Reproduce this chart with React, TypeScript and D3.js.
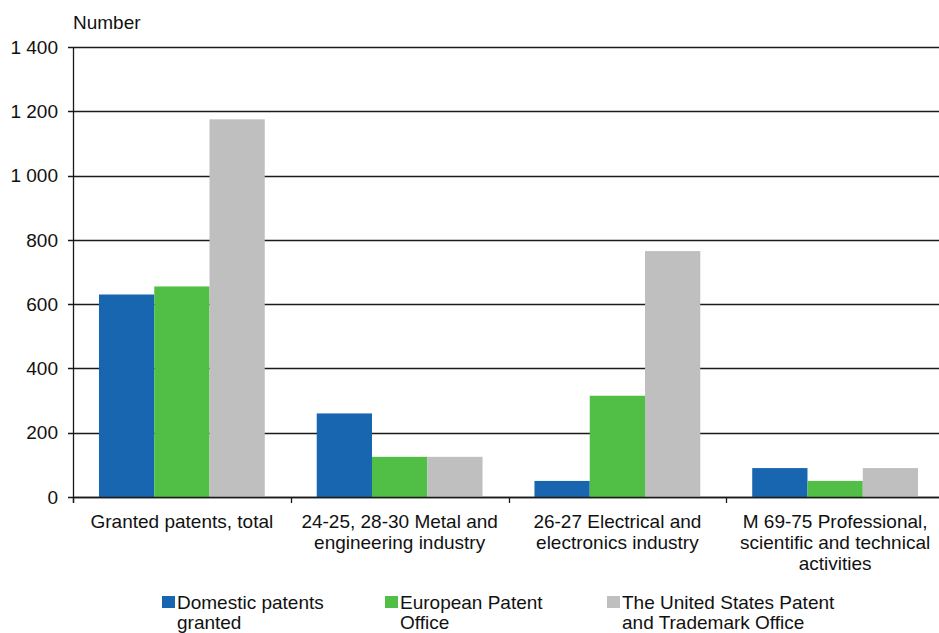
import React from "react";
import * as d3 from "d3";

const categories: string[][] = [
  ["Granted patents, total"],
  ["24-25, 28-30 Metal and", "engineering industry"],
  ["26-27 Electrical and", "electronics industry"],
  ["M 69-75 Professional,", "scientific and technical", "activities"],
];
const seriesNames: string[][] = [
  ["Domestic patents", "granted"],
  ["European Patent", "Office"],
  ["The United States Patent", "and Trademark Office"],
];
const seriesColors = ["#1866b0", "#51be45", "#bfbfbf"];
const domestic = [630, 260, 50, 90];
const european = [655, 125, 315, 50];
const unitedStates = [1175, 125, 765, 90];
const yTicks = [0, 200, 400, 600, 800, 1000, 1200, 1400];
const yTickLabels = ["0", "200", "400", "600", "800", "1 000", "1 200", "1 400"];
const yTitle = "Number";

const W = 939;
const H = 633;
const FONT = "'Liberation Sans', Arial, sans-serif";

export default function App() {
  const series = [domestic, european, unitedStates];
  const x0 = d3
    .scaleBand<number>()
    .domain(categories.map((_, i) => i))
    .range([73, 944])
    .paddingInner(0)
    .paddingOuter(0);
  const x1 = d3
    .scaleBand<number>()
    .domain(series.map((_, i) => i))
    .range([0, x0.bandwidth()])
    .paddingInner(0)
    .paddingOuter(0.47);
  const y = d3.scaleLinear().domain([0, 1400]).range([497, 47]);
  const fs = 19;
  const lh = 21;
  const legendX = [162, 385, 607];

  return (
    <svg
      width={W}
      height={H}
      style={{ position: "absolute", left: 0, top: 0, background: "#fff" }}
      fontFamily={FONT}
    >
      <rect x={0} y={0} width={W} height={H} fill="#fff" />
      {yTicks.map((t, i) => (
        <g key={"g" + i}>
          <line x1={68} x2={W} y1={Math.round(y(t)) + 0.5} y2={Math.round(y(t)) + 0.5} stroke="#1a1a1a" strokeWidth={1.3} />
          <text x={58} y={y(t)} dy="0.35em" textAnchor="end" fontSize={fs} fill="#111">
            {yTickLabels[i]}
          </text>
        </g>
      ))}
      {categories.map((_, ci) => (
        <g key={"c" + ci} transform={`translate(${x0(ci)},0)`}>
          {series.map((s, si) => (
            <rect
              key={si}
              x={x1(si)}
              width={x1.bandwidth()}
              y={y(s[ci])}
              height={y(0) - y(s[ci])}
              fill={seriesColors[si]}
            />
          ))}
        </g>
      ))}
      <line x1={73.5} x2={73.5} y1={47} y2={503} stroke="#1a1a1a" strokeWidth={1.3} />
      {categories.map((_, ci) => (
        <line
          key={"t" + ci}
          x1={Math.round(x0(ci)!) + 0.5}
          x2={Math.round(x0(ci)!) + 0.5}
          y1={497}
          y2={503}
          stroke="#1a1a1a"
          strokeWidth={1.3}
        />
      ))}
      <line x1={73} x2={W} y1={497.5} y2={497.5} stroke="#1a1a1a" strokeWidth={1.3} />
      {categories.map((lines, ci) => (
        <text
          key={"l" + ci}
          x={x0(ci)! + x0.bandwidth() / 2}
          y={528}
          textAnchor="middle"
          fontSize={fs}
          fill="#111"
        >
          {lines.map((ln, li) => (
            <tspan key={li} x={x0(ci)! + x0.bandwidth() / 2} y={528 + li * lh}>
              {ln}
            </tspan>
          ))}
        </text>
      ))}
      <text x={73} y={29} fontSize={fs} fill="#111">
        {yTitle}
      </text>
      {seriesNames.map((lines, si) => (
        <g key={"lg" + si}>
          <rect x={legendX[si]} y={596} width={13} height={12} fill={seriesColors[si]} />
          <text fontSize={fs} fill="#111">
            {lines.map((ln, li) => (
              <tspan key={li} x={legendX[si] + 15} y={609 + li * 20}>
                {ln}
              </tspan>
            ))}
          </text>
        </g>
      ))}
    </svg>
  );
}
